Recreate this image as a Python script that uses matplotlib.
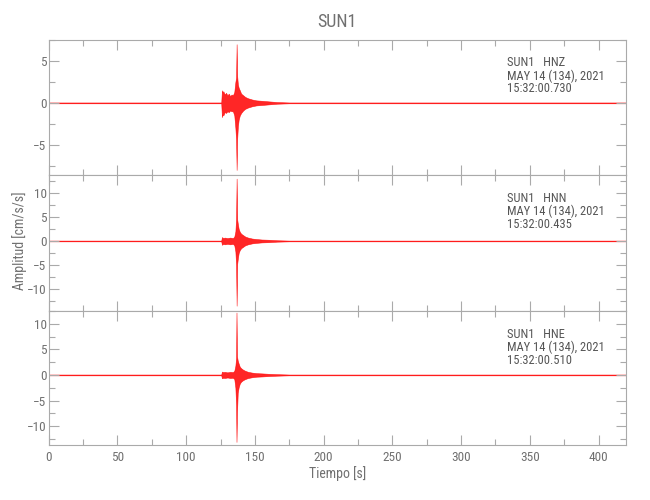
import matplotlib.pyplot as plt
from matplotlib import font_manager
from matplotlib.ticker import MultipleLocator

station = "SUN1"
channels = ["HNZ", "HNN", "HNE"]
date_label = "MAY 14 (134), 2021"
start_times = ["15:32:00.730", "15:32:00.435", "15:32:00.510"]

# trace envelopes (time [s], amplitude [cm/s/s])
time_hnz = [0, 125.5, 126, 126.5, 127, 128, 129, 130, 131, 132, 133, 134, 135, 135.8,
            136.3, 136.7, 137.1, 137.6, 138.2, 139, 140, 141.5, 143, 145, 148, 151,
            155, 160, 166, 175, 420]
upper_hnz = [0.05, 0.05, 1.5, 1.2, 1.4, 1.0, 1.2, 0.9, 1.1, 0.8, 1.0, 0.9, 1.3, 2.5,
             3.0, 7.0, 3.2, 2.2, 1.8, 1.5, 1.1, 0.9, 0.7, 0.55, 0.4, 0.3,
             0.25, 0.18, 0.1, 0.05, 0.05]
lower_hnz = [-0.05, -0.05, -1.7, -1.3, -1.5, -1.1, -1.2, -1.0, -1.1, -0.9, -1.0, -1.0, -1.5, -3.0,
             -4.4, -8.0, -4.3, -2.8, -2.0, -1.5, -1.2, -0.9, -0.7, -0.55, -0.4, -0.3,
             -0.25, -0.18, -0.1, -0.05, -0.05]

time_hnn = [0, 125.5, 126, 127, 128, 130, 132, 134, 135, 135.8, 136.3, 136.7, 137.1,
            137.6, 138.2, 139, 140, 141.5, 143, 145, 148, 151, 155, 160, 166, 175, 420]
upper_hnn = [0.08, 0.08, 0.8, 0.6, 0.7, 0.6, 0.7, 0.6, 0.9, 2.0, 4.6, 13.0, 4.5,
             3.5, 2.5, 1.9, 1.5, 1.2, 0.9, 0.7, 0.5, 0.4, 0.3, 0.25, 0.15, 0.08, 0.08]
lower_hnn = [-0.08, -0.08, -0.8, -0.6, -0.7, -0.6, -0.7, -0.6, -0.9, -2.2, -5.0, -13.5, -4.8,
             -3.6, -2.5, -1.9, -1.5, -1.2, -0.9, -0.7, -0.5, -0.4, -0.3, -0.25, -0.15, -0.08, -0.08]

time_hne = [0, 125.5, 126, 127, 128, 130, 132, 134, 135, 135.8, 136.3, 136.6, 137.0,
            137.5, 138.2, 139, 140, 141.5, 143, 145, 148, 151, 155, 160, 166, 175, 420]
upper_hne = [0.08, 0.08, 0.65, 0.55, 0.6, 0.5, 0.6, 0.55, 0.8, 1.8, 3.3, 12.2, 3.6,
             2.8, 2.2, 1.6, 1.3, 1.0, 0.8, 0.6, 0.45, 0.35, 0.3, 0.22, 0.15, 0.08, 0.08]
lower_hne = [-0.08, -0.08, -0.65, -0.55, -0.6, -0.5, -0.6, -0.55, -0.8, -2.5, -5.9, -13.1, -7.2,
             -3.5, -2.4, -1.7, -1.3, -1.0, -0.8, -0.6, -0.45, -0.35, -0.3, -0.22, -0.15, -0.08, -0.08]

traces = [(time_hnz, upper_hnz, lower_hnz),
          (time_hnn, upper_hnn, lower_hnn),
          (time_hne, upper_hne, lower_hne)]
y_limits = [(-8.6, 7.5), (-14.6, 13.75), (-13.7, 12.5)]

# thin / narrow face if one is around
installed = {f.name for f in font_manager.fontManager.ttflist}
for name in ["Liberation Sans Narrow", "DejaVu Sans Condensed", "Roboto Condensed", "Liberation Sans"]:
    if name in installed:
        plt.rcParams['font.family'] = [name, 'DejaVu Sans']
        break

axis_gray = "#aaaaaa"
text_gray = "#707070"

fig = plt.figure(figsize=(6.5, 5), dpi=100)
left, width = 48.75 / 650, (626 - 48.75) / 650
edges = [40, 175, 311, 445]

axes = []
for i, (t, up, lo) in enumerate(traces):
    top = 1 - edges[i] / 500
    bottom = 1 - edges[i + 1] / 500
    ax = fig.add_axes([left, bottom, width, top - bottom])
    axes.append(ax)
    ax.fill_between(t, lo, up, color="red", alpha=0.85, linewidth=0.4, edgecolor="red")
    ax.set_xlim(0, 420)
    ax.set_ylim(*y_limits[i])
    ax.xaxis.set_major_locator(MultipleLocator(50))
    ax.xaxis.set_minor_locator(MultipleLocator(25))
    ax.yaxis.set_major_locator(MultipleLocator(5))
    ax.yaxis.set_minor_locator(MultipleLocator(2.5))
    ax.tick_params(which="both", direction="in", top=True, right=True,
                   color=axis_gray, labelcolor=text_gray, labelsize=9.5)
    ax.tick_params(which="major", length=7, width=0.8)
    ax.tick_params(which="minor", length=4, width=0.8)
    ax.tick_params(axis="y", pad=1.5)
    ax.tick_params(axis="x", pad=4)
    for spine in ax.spines.values():
        spine.set_color(axis_gray)
        spine.set_linewidth(0.8)
    if i < 2:
        ax.tick_params(labelbottom=False)

    lines = [f"{station}   {channels[i]}", date_label, start_times[i]]
    for j, line in enumerate(lines):
        ax.annotate(line, xy=(0.793, 1), xycoords="axes fraction",
                    xytext=(0, -(23 + 13 * j) * 0.72), textcoords="offset points",
                    ha="left", va="center", fontsize=9, color="#555555")

fig.text(0.5 * (48.75 + 626) / 650, 1 - 22 / 500, station, ha="center", va="center",
         fontsize=13, color=text_gray)
axes[2].set_xlabel("Tiempo [s]", fontsize=10, color=text_gray, labelpad=2)
fig.text(20 / 650, 1 - 241 / 500, "Amplitud [cm/s/s]", rotation=90, ha="center",
         va="center", fontsize=10, color=text_gray)

plt.savefig("out.png", dpi=100)
